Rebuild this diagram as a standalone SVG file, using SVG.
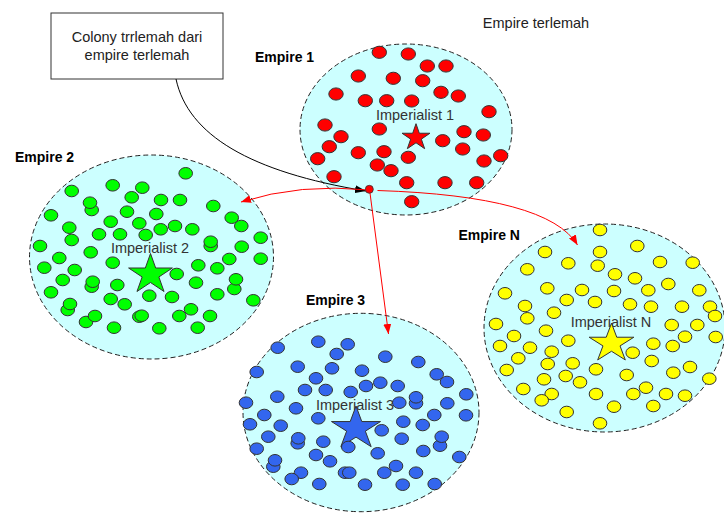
<svg xmlns="http://www.w3.org/2000/svg" xmlns:xlink="http://www.w3.org/1999/xlink" width="724" height="513" viewBox="0 0 724 513">
  <style>
    .empire { fill: #CCFFFF; stroke: #222; stroke-width: 1; stroke-dasharray: 5 3; }
    .ename { font-family: "Liberation Sans", Arial, sans-serif; font-weight: bold; font-size: 14px; fill: #000; }
    .imp { font-family: "Liberation Sans", Arial, sans-serif; font-size: 14.5px; fill: #333; text-anchor: middle; }
    .note { font-family: "Liberation Sans", Arial, sans-serif; font-size: 14.5px; fill: #222; text-anchor: middle; }
    .dots { stroke: #333; stroke-width: 1; }
    .star { stroke: #333; stroke-width: 1; }
    .move { fill: none; stroke: #FF0000; stroke-width: 1; }
    .lead { fill: none; stroke: #000; stroke-width: 1; }
  </style>
  <defs>
    <ellipse id="dot" cx="0" cy="0" rx="6.8" ry="5.8"/>
    <ellipse id="dotL" cx="0" cy="0" rx="7.2" ry="6.1"/>
    <polygon id="star" vector-effect="non-scaling-stroke" points="0,-1 0.2245,-0.309 0.9511,-0.309 0.3633,0.118 0.5878,0.809 0,0.382 -0.5878,0.809 -0.3633,0.118 -0.9511,-0.309 -0.2245,-0.309"/>
    <marker id="headRed" markerWidth="10" markerHeight="8" refX="10" refY="4" orient="auto" markerUnits="userSpaceOnUse">
      <path d="M0,0 L10,4 L0,8 Z" fill="#FF0000"/>
    </marker>
    <marker id="headBlack" markerWidth="11" markerHeight="8" refX="11" refY="4" orient="auto" markerUnits="userSpaceOnUse">
      <path d="M0,0 L11,4 L0,8 Z" fill="#000"/>
    </marker>
  </defs>

  <rect width="724" height="513" fill="#FFFFFF"/>

  <!-- caption box -->
  <g id="colony-note">
    <rect x="51" y="13" width="172" height="66" fill="#FFFFFF" stroke="#333" stroke-width="1"/>
    <text class="note" x="137" y="42">Colony trrlemah dari</text>
    <text class="note" x="137" y="60">empire terlemah</text>
  </g>

  <g id="weakest-label">
    <text class="note" x="536" y="28">Empire terlemah</text>
  </g>

  <!-- Empire 1 -->
  <g id="empire-1">
    <ellipse class="empire" cx="406" cy="129.5" rx="106" ry="85.5"/>
    <text class="ename" x="255" y="62">Empire 1</text>
    <text class="imp" x="415" y="119.5">Imperialist 1</text>
    <use href="#star" class="star" fill="#FF0000" transform="translate(416,137.5) scale(14.7,13.8)"/>
    <g class="dots" fill="#FF0000">
      <use href="#dotL" x="379.3" y="52.3"/><use href="#dotL" x="408.3" y="54"/><use href="#dotL" x="427.3" y="66"/>
      <use href="#dotL" x="446" y="66"/><use href="#dotL" x="358.3" y="76"/><use href="#dotL" x="393.3" y="78.3"/>
      <use href="#dotL" x="422.7" y="80.7"/><use href="#dotL" x="441" y="92.3"/><use href="#dotL" x="458.3" y="96"/>
      <use href="#dotL" x="336" y="94"/><use href="#dotL" x="365.3" y="100.7"/><use href="#dotL" x="386.7" y="100.7"/>
      <use href="#dotL" x="411.7" y="101"/><use href="#dotL" x="489" y="111.7"/><use href="#dotL" x="325" y="125"/>
      <use href="#dotL" x="379.3" y="129"/><use href="#dotL" x="341" y="136.7"/><use href="#dotL" x="464" y="131.7"/>
      <use href="#dotL" x="442.7" y="140.7"/><use href="#dotL" x="483.3" y="135"/><use href="#dotL" x="329.3" y="146.7"/>
      <use href="#dotL" x="358.3" y="152.7"/><use href="#dotL" x="384" y="151.7"/><use href="#dotL" x="462.7" y="149"/>
      <use href="#dotL" x="317.7" y="158.7"/><use href="#dotL" x="408.3" y="157.3"/><use href="#dotL" x="377.3" y="165"/>
      <use href="#dotL" x="391" y="170.7"/><use href="#dotL" x="484" y="161"/><use href="#dotL" x="500.7" y="155.7"/>
      <use href="#dotL" x="334" y="176.7"/><use href="#dotL" x="406.7" y="182.7"/><use href="#dotL" x="445" y="182.7"/>
      <use href="#dotL" x="476.7" y="182.7"/><use href="#dotL" x="411.7" y="201.7"/>
    </g>
  </g>

  <!-- Empire 2 -->
  <g id="empire-2">
    <ellipse class="empire" cx="151.5" cy="257" rx="122" ry="102"/>
    <text class="ename" x="15" y="162">Empire 2</text>
    <text class="imp" x="150" y="253">Imperialist 2</text>
    <use href="#star" class="star" fill="#00FF00" transform="translate(150.5,274.5) scale(23,21)"/>
    <g class="dots" fill="#00FF00">
      <use href="#dot" x="185.7" y="173.3"/><use href="#dot" x="112.7" y="185.3"/><use href="#dot" x="142.3" y="187.7"/>
      <use href="#dot" x="71.7" y="191"/><use href="#dot" x="131.7" y="197.3"/><use href="#dot" x="161" y="200"/>
      <use href="#dot" x="180" y="200"/><use href="#dot" x="91.7" y="210"/><use href="#dot" x="90" y="202.7"/>
      <use href="#dot" x="213.3" y="206"/><use href="#dot" x="51" y="215.3"/><use href="#dot" x="127" y="211.7"/>
      <use href="#dot" x="156.3" y="214"/><use href="#dot" x="231.7" y="217.7"/><use href="#dot" x="110.7" y="221.7"/>
      <use href="#dot" x="241.3" y="226"/><use href="#dot" x="69.3" y="227.7"/><use href="#dot" x="139.3" y="223.3"/>
      <use href="#dot" x="175" y="226"/><use href="#dot" x="160.7" y="229.3"/><use href="#dot" x="192.3" y="229.3"/>
      <use href="#dot" x="99" y="234.3"/><use href="#dot" x="120" y="234.3"/><use href="#dot" x="145.7" y="235"/>
      <use href="#dot" x="71.7" y="240"/><use href="#dot" x="210.7" y="246"/><use href="#dot" x="210.7" y="241.7"/>
      <use href="#dot" x="260.7" y="237.7"/><use href="#dot" x="40" y="246"/><use href="#dot" x="241.7" y="246.7"/>
      <use href="#dot" x="90.7" y="252.3"/><use href="#dot" x="59.3" y="258"/><use href="#dot" x="112.7" y="262.7"/>
      <use href="#dot" x="229.3" y="259"/><use href="#dot" x="260.7" y="258.7"/><use href="#dot" x="44.3" y="267.7"/>
      <use href="#dot" x="74.7" y="270"/><use href="#dot" x="198.3" y="265.3"/><use href="#dot" x="217.3" y="268.3"/>
      <use href="#dot" x="62.7" y="280"/><use href="#dot" x="176.7" y="274"/><use href="#dot" x="91.7" y="286.7"/>
      <use href="#dot" x="92.7" y="281.7"/><use href="#dot" x="196" y="282.7"/><use href="#dot" x="234.3" y="289"/>
      <use href="#dot" x="236" y="279.3"/><use href="#dot" x="117.3" y="285"/><use href="#dot" x="51" y="292.3"/>
      <use href="#dot" x="149.3" y="295.7"/><use href="#dot" x="172" y="297"/><use href="#dot" x="217.3" y="294.3"/>
      <use href="#dot" x="110.7" y="299"/><use href="#dot" x="124.7" y="304.3"/><use href="#dot" x="253.3" y="300.3"/>
      <use href="#dot" x="67.7" y="310"/><use href="#dot" x="70" y="304"/><use href="#dot" x="191" y="309.3"/>
      <use href="#dot" x="86" y="322"/><use href="#dot" x="95" y="316"/><use href="#dot" x="139.3" y="316.7"/>
      <use href="#dot" x="141.7" y="315.7"/><use href="#dot" x="179.3" y="316"/><use href="#dot" x="210" y="316"/>
      <use href="#dot" x="114" y="327.7"/><use href="#dot" x="159.3" y="328.3"/><use href="#dot" x="197.7" y="327.7"/>
    </g>
  </g>

  <!-- Empire 3 -->
  <g id="empire-3">
    <ellipse class="empire" cx="361" cy="412.5" rx="118" ry="99.2"/>
    <text class="ename" x="306" y="305">Empire 3</text>
    <text class="imp" x="355" y="410">Imperialist 3</text>
    <use href="#star" class="star" fill="#3366EE" transform="translate(356,428.5) scale(25.8,22.5)"/>
    <g class="dots" fill="#3366EE">
      <use href="#dot" x="318.3" y="341.7"/><use href="#dot" x="336.7" y="354"/><use href="#dot" x="347.7" y="344.3"/>
      <use href="#dot" x="277.7" y="347.7"/><use href="#dot" x="385.3" y="356.7"/><use href="#dot" x="418.3" y="362"/>
      <use href="#dot" x="256.7" y="372"/><use href="#dot" x="297.7" y="366.7"/><use href="#dot" x="332" y="368.3"/>
      <use href="#dot" x="362" y="370.7"/><use href="#dot" x="316" y="378.3"/><use href="#dot" x="436.7" y="374.3"/>
      <use href="#dot" x="447" y="382"/><use href="#dot" x="305" y="390"/><use href="#dot" x="325.7" y="390"/>
      <use href="#dot" x="350.7" y="392"/><use href="#dot" x="380.3" y="382.7"/><use href="#dot" x="366" y="386"/>
      <use href="#dot" x="397.7" y="386"/><use href="#dot" x="277.3" y="396.7"/><use href="#dot" x="246" y="402.7"/>
      <use href="#dot" x="399.3" y="402.7"/><use href="#dot" x="416" y="403.3"/><use href="#dot" x="416" y="397.3"/>
      <use href="#dot" x="466.3" y="394.3"/><use href="#dot" x="447.3" y="403.3"/><use href="#dot" x="296" y="408.3"/>
      <use href="#dot" x="264.3" y="415"/><use href="#dot" x="318.3" y="418.3"/><use href="#dot" x="434.3" y="415"/>
      <use href="#dot" x="466" y="415.3"/><use href="#dot" x="250" y="424.3"/><use href="#dot" x="280.7" y="425.7"/>
      <use href="#dot" x="403.3" y="421.7"/><use href="#dot" x="422.7" y="425"/><use href="#dot" x="381.7" y="430.3"/>
      <use href="#dot" x="268.3" y="436.7"/><use href="#dot" x="297.7" y="443.3"/><use href="#dot" x="298.3" y="438.3"/>
      <use href="#dot" x="323.3" y="441.7"/><use href="#dot" x="440" y="445.7"/><use href="#dot" x="441.7" y="436.7"/>
      <use href="#dot" x="401.7" y="438.7"/><use href="#dot" x="256.7" y="448.7"/><use href="#dot" x="348.3" y="447"/>
      <use href="#dot" x="377.7" y="453.3"/><use href="#dot" x="423.3" y="451"/><use href="#dot" x="316" y="455"/>
      <use href="#dot" x="330" y="461.3"/><use href="#dot" x="459.3" y="457"/><use href="#dot" x="273.3" y="466.7"/>
      <use href="#dot" x="275" y="460.3"/><use href="#dot" x="301" y="472.7"/><use href="#dot" x="291.7" y="479"/>
      <use href="#dot" x="345" y="472.7"/><use href="#dot" x="349.3" y="472.7"/><use href="#dot" x="396" y="466"/>
      <use href="#dot" x="384.3" y="472.7"/><use href="#dot" x="416" y="472.7"/><use href="#dot" x="319.3" y="484"/>
      <use href="#dot" x="365" y="484.7"/><use href="#dot" x="402.7" y="484.7"/><use href="#dot" x="434.7" y="484"/>
    </g>
  </g>

  <!-- Empire N -->
  <g id="empire-n">
    <ellipse class="empire" cx="604.5" cy="328" rx="120.5" ry="104"/>
    <text class="ename" x="458.5" y="240">Empire N</text>
    <text class="imp" x="611" y="327">Imperialist N</text>
    <use href="#star" class="star" fill="#FFFF00" transform="translate(611.5,343.5) scale(23.5,20.3)"/>
    <g class="dots" fill="#FFFF00">
      <use href="#dot" x="600" y="230"/><use href="#dot" x="637.3" y="246"/><use href="#dot" x="545" y="252"/>
      <use href="#dot" x="600" y="252"/><use href="#dot" x="568.3" y="263.3"/><use href="#dot" x="527.3" y="269.3"/>
      <use href="#dot" x="597.7" y="265.7"/><use href="#dot" x="660" y="262"/><use href="#dot" x="692.7" y="262.7"/>
      <use href="#dot" x="615" y="274.3"/><use href="#dot" x="635" y="278.3"/><use href="#dot" x="668.3" y="284"/>
      <use href="#dot" x="505" y="293.3"/><use href="#dot" x="547.3" y="288.3"/><use href="#dot" x="582" y="290"/>
      <use href="#dot" x="614" y="291"/><use href="#dot" x="648.3" y="290.3"/><use href="#dot" x="699.3" y="290.3"/>
      <use href="#dot" x="566.7" y="300"/><use href="#dot" x="595" y="302"/><use href="#dot" x="630" y="304.3"/>
      <use href="#dot" x="651" y="306.7"/><use href="#dot" x="682" y="306.7"/><use href="#dot" x="710" y="306.7"/>
      <use href="#dot" x="715" y="316"/><use href="#dot" x="525" y="306"/><use href="#dot" x="554" y="312.7"/>
      <use href="#dot" x="527.3" y="318.3"/><use href="#dot" x="496" y="324"/><use href="#dot" x="546" y="330.7"/>
      <use href="#dot" x="671.7" y="325"/><use href="#dot" x="697.3" y="325"/><use href="#dot" x="685" y="336.7"/>
      <use href="#dot" x="715.7" y="337"/><use href="#dot" x="514" y="336"/><use href="#dot" x="568.3" y="340.7"/>
      <use href="#dot" x="500" y="346"/><use href="#dot" x="530" y="347.7"/><use href="#dot" x="551.7" y="351.7"/>
      <use href="#dot" x="632.7" y="352.7"/><use href="#dot" x="653.3" y="343.7"/><use href="#dot" x="672.7" y="346"/>
      <use href="#dot" x="518.3" y="358.3"/><use href="#dot" x="547.7" y="364"/><use href="#dot" x="572.7" y="363.3"/>
      <use href="#dot" x="651.7" y="361"/><use href="#dot" x="596" y="369.3"/><use href="#dot" x="506.7" y="370"/>
      <use href="#dot" x="626.7" y="375"/><use href="#dot" x="673.3" y="372.7"/><use href="#dot" x="690" y="367"/>
      <use href="#dot" x="544" y="379.3"/><use href="#dot" x="565.7" y="376"/><use href="#dot" x="580" y="382.3"/>
      <use href="#dot" x="709.3" y="378.7"/><use href="#dot" x="523.3" y="389"/><use href="#dot" x="551.7" y="394"/>
      <use href="#dot" x="541.7" y="400.3"/><use href="#dot" x="596" y="394"/><use href="#dot" x="633.3" y="394"/>
      <use href="#dot" x="646" y="387.7"/><use href="#dot" x="666" y="394"/><use href="#dot" x="685" y="395.7"/>
      <use href="#dot" x="614" y="406.7"/><use href="#dot" x="653.3" y="406"/><use href="#dot" x="566.7" y="412"/>
      <use href="#dot" x="600" y="423.3"/>
    </g>
  </g>

  <!-- moves of the weakest colony -->
  <g id="connectors">
    <path class="lead" d="M176,79 C188,135 250,172 366,191" marker-end="url(#headBlack)"/>
    <path class="move" d="M369,190 Q300,183 241,202" marker-end="url(#headRed)"/>
    <path class="move" d="M370,193 L388.5,334" marker-end="url(#headRed)"/>
    <path class="move" d="M377.5,190.5 Q548,196 577.5,245" marker-end="url(#headRed)"/>
  </g>

  <g id="colony">
    <circle cx="369.3" cy="189.3" r="4" fill="#FF0000" stroke="#333" stroke-width="0.8"/>
  </g>
</svg>
